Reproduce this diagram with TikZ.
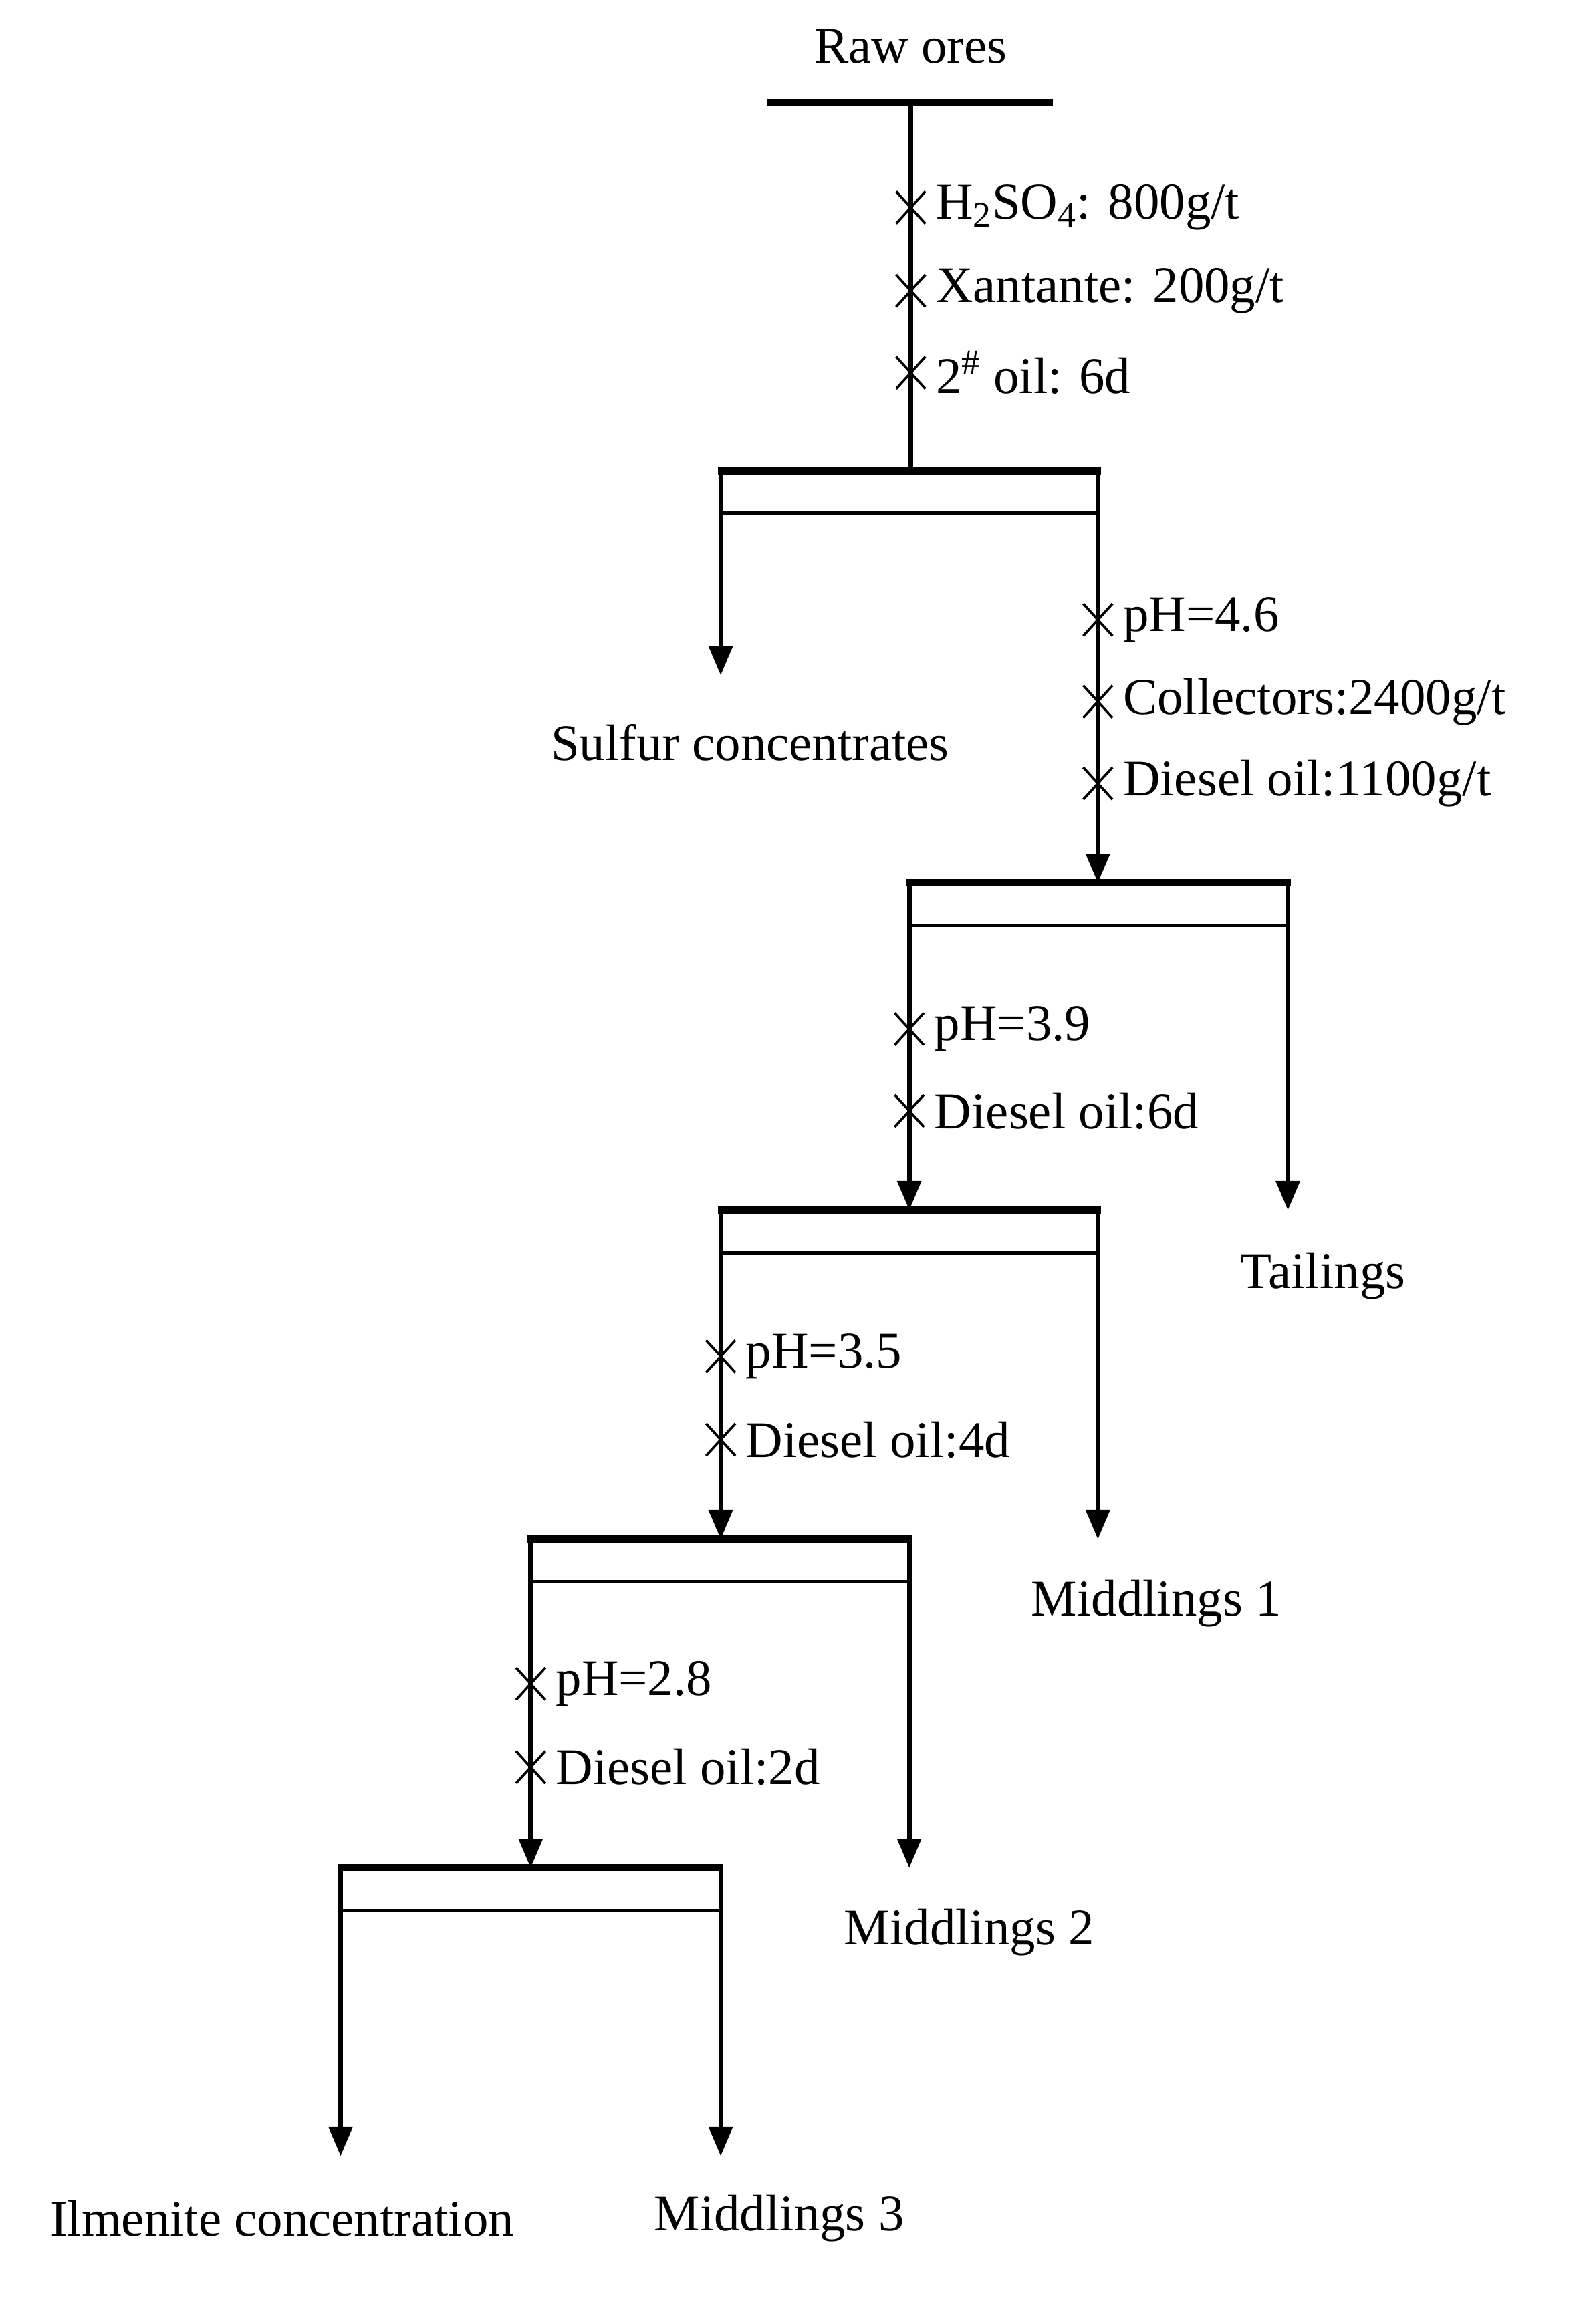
\documentclass[tikz,border=0pt]{standalone}
\usepackage{fontspec}
\setmainfont{Liberation Serif}
\usetikzlibrary{arrows.meta}
\tikzset{
  x=0.025cm,y=-0.025cm,
  flow/.style={line width=2.2pt},
  arr/.style={line width=2.2pt,-{Triangle[length=0.5cm,width=0.4cm]}},
  bar/.style={line width=3.5pt},
  thinbar/.style={line width=1.6pt},
  lbl/.style={font=\fontsize{25}{30}\selectfont,inner sep=0pt},
  crs/.style={line width=1.2pt}
}
\newcommand\flotcell[4]{% name, xl, xr, ytop
  \coordinate (#1-tl) at (#2,#4); \coordinate (#1-tr) at (#3,#4);
  \draw[bar] (#2-2,#4) -- (#3+2,#4);
  \draw[thinbar] (#2,#4+29) -- (#3,#4+29);
  \draw[flow] (#2,#4) -- (#2,#4+29);
  \draw[flow] (#3,#4) -- (#3,#4+29);
}
\newcommand\reag[4]{% name, x, y, text
  \draw[crs] (#2-10,#3-11) -- (#2+10,#3+11) (#2-10,#3+11) -- (#2+10,#3-11);
  \node[lbl,anchor=west] (#1) at (#2+17,#3) {#4};
}
\begin{document}
\begin{tikzpicture}
\useasboundingbox (0,0) rectangle (1088,1590);
\node[lbl] (raw) at (623,32) {Raw ores};
\draw[bar] (525,70) -- (720,70);
\coordinate (top) at (623,70);
\flotcell{c1}{493}{751}{322}
\flotcell{c2}{622}{881}{604}
\flotcell{c3}{493}{751}{828}
\flotcell{c4}{363}{622}{1053}
\flotcell{c5}{233}{493}{1278}
\draw[flow] (top) -- (c1-tl -| top);
\reag{r1}{623}{142}{H\textsubscript{2}SO\textsubscript{4}: 800g/t}
\reag{r2}{623}{199}{Xantante: 200g/t}
\reag{r3}{623}{255}{2\textsuperscript{\#} oil: 6d}
% cell 1
\coordinate (s1) at (493,462);
\draw[arr] (c1-tl) -- (s1);
\node[lbl] (sulf) at (513,508) {Sulfur concentrates};
\draw[arr] (c1-tr) -- (c2-tl -| c1-tr);
\reag{r4}{751}{424}{pH=4.6}
\reag{r5}{751}{480}{Collectors:2400g/t}
\reag{r6}{751}{536}{Diesel oil:1100g/t}
% cell 2
\draw[arr] (c2-tl) -- (c3-tl -| c2-tl);
\coordinate (t1) at (881,828);
\draw[arr] (c2-tr) -- (t1);
\node[lbl] (tail) at (905,873) {Tailings};
\reag{r7}{622}{704}{pH=3.9}
\reag{r8}{622}{760}{Diesel oil:6d}
% cell 3
\draw[arr] (c3-tl) -- (c4-tl -| c3-tl);
\coordinate (m1) at (751,1053);
\draw[arr] (c3-tr) -- (m1);
\node[lbl] (mid1) at (791,1097) {Middlings 1};
\reag{r9}{493}{928}{pH=3.5}
\reag{r10}{493}{985}{Diesel oil:4d}
% cell 4
\draw[arr] (c4-tl) -- (c5-tl -| c4-tl);
\coordinate (m2) at (622,1278);
\draw[arr] (c4-tr) -- (m2);
\node[lbl] (mid2) at (663,1322) {Middlings 2};
\reag{r11}{363}{1152}{pH=2.8}
\reag{r12}{363}{1209}{Diesel oil:2d}
% cell 5
\coordinate (il) at (233,1475);
\coordinate (m3) at (493,1475);
\draw[arr] (c5-tl) -- (il);
\draw[arr] (c5-tr) -- (m3);
\node[lbl] (ilm) at (193,1518) {Ilmenite concentration};
\node[lbl] (mid3) at (533,1518) {Middlings 3};
\end{tikzpicture}
\end{document}
